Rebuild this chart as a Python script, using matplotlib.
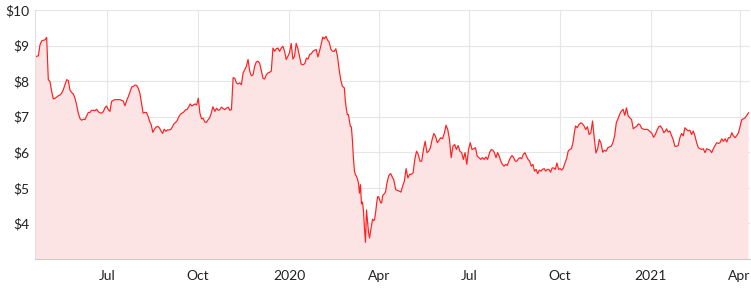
import matplotlib
matplotlib.use("Agg")
import matplotlib.pyplot as plt
import pandas as pd

# closing prices, one array per stretch of time
# (each stretch is sampled evenly between its start and end date)
prices_2019_q2 = [8.67, 8.70, 8.71, 9.02, 9.13, 9.15, 9.16, 9.23, 8.04, 7.99, 7.71, 7.50, 7.52, 7.55,
                  7.59, 7.61, 7.66, 7.76, 7.90, 8.04, 8.02, 7.75, 7.68, 7.64, 7.52, 7.33, 7.10, 6.95,
                  6.90, 6.93, 6.92, 7.02, 7.12, 7.12, 7.18, 7.18, 7.17, 7.21, 7.14, 7.11, 7.10, 7.14,
                  7.25, 7.30, 7.20, 7.15, 7.43, 7.46, 7.48, 7.48, 7.48, 7.48, 7.46, 7.44, 7.31]
prices_2019_q3 = [7.47, 7.58, 7.71, 7.84, 7.85, 7.89, 7.88, 7.80, 7.66, 7.38, 7.10, 7.12, 7.12, 7.02,
                  6.87, 6.77, 6.56, 6.65, 6.71, 6.73, 6.69, 6.60, 6.53, 6.65, 6.59, 6.63, 6.63, 6.64,
                  6.71, 6.80, 6.84, 6.89, 7.00, 7.07, 7.10, 7.13, 7.19, 7.20, 7.27, 7.36, 7.30, 7.33,
                  7.36, 7.33, 7.52, 7.10, 6.94, 6.96, 6.85, 6.84, 6.91, 6.97, 7.10, 7.28]
prices_2019_q4 = [7.15, 7.24, 7.18, 7.20, 7.27, 7.23, 7.20, 7.24, 7.27, 7.18, 7.20, 8.10, 8.08, 7.95,
                  7.92, 7.95, 7.90, 8.23, 8.32, 8.42, 8.61, 8.28, 8.15, 8.18, 8.42, 8.54, 8.56, 8.50,
                  8.30, 8.08, 8.06, 8.18, 8.23, 8.25, 8.28, 8.93, 8.84, 8.91, 8.93, 8.84, 8.93, 8.98,
                  8.84, 8.61, 8.70, 8.80, 9.06, 8.62, 8.70, 9.06, 8.92, 8.70, 8.48, 8.46]
prices_2020_jan = [8.49, 8.65, 8.62, 8.75, 8.77, 8.84, 8.87, 8.89, 8.68, 8.84, 9.03, 9.24, 9.19, 9.26,
                   9.15, 9.09, 8.89, 8.84, 8.84, 8.91, 8.70, 8.34, 8.04, 7.86]
prices_2020_crash = [7.81, 7.45, 7.22, 7.06, 7.06, 6.90, 6.73, 6.71, 6.35, 5.85, 5.48, 5.37, 5.33, 5.25,
                     5.14, 4.85, 5.09, 4.55, 4.60, 4.35, 3.85, 3.47, 4.38, 4.05, 3.75, 3.59, 3.78, 3.95,
                     4.12, 4.08, 4.10, 4.30, 4.55, 4.75, 4.75, 4.67, 4.58, 4.58, 4.78, 4.82, 4.84, 4.90,
                     5.10, 5.22, 5.34, 5.38, 5.40, 5.34, 5.28, 5.23]
prices_2020_q2 = [4.95, 4.93, 4.91, 4.88, 5.05, 5.19, 5.54, 5.28, 5.38, 5.38, 5.42, 5.80, 6.03, 5.94,
                  5.75, 5.75, 6.08, 6.31, 5.99, 6.03, 6.13, 6.36, 6.53, 6.44, 6.27, 6.34, 6.41, 6.38,
                  6.53, 6.76, 6.64, 6.36, 5.85, 6.17, 6.22, 6.08, 6.19, 6.03, 5.99, 5.80, 5.99, 5.66,
                  6.08, 6.27, 6.08, 6.10, 6.13, 5.89, 5.85, 5.80, 5.85, 5.80, 5.87, 5.80]
prices_2020_q3 = [5.99, 6.08, 6.06, 5.99, 5.85, 5.99, 5.89, 5.75, 5.66, 5.61, 5.66, 5.63, 5.75, 5.85,
                  5.91, 5.85, 5.75, 5.75, 5.82, 5.85, 5.82, 5.94, 5.99, 5.89, 5.80, 5.75, 5.61, 5.66,
                  5.47, 5.52, 5.40, 5.50, 5.47, 5.52, 5.54, 5.47, 5.52, 5.52, 5.44, 5.56, 5.56, 5.52,
                  5.70, 5.52, 5.54, 5.50, 5.56, 5.70, 5.82, 6.03, 6.08, 6.10, 6.27, 6.60]
prices_2020_q4 = [6.74, 6.69, 6.78, 6.83, 6.80, 6.74, 6.64, 6.72, 6.50, 6.55, 6.88, 6.41, 5.98, 6.10,
                  6.36, 6.25, 6.00, 6.06, 6.03, 6.13, 6.15, 6.17, 6.27, 6.46, 6.83, 6.94, 7.07, 7.16,
                  7.21, 7.04, 7.25, 7.02, 6.97, 6.92, 6.66, 6.70, 6.73, 6.80, 6.77, 6.67, 6.65, 6.64,
                  6.65, 6.62, 6.58, 6.53, 6.42, 6.50, 6.62, 6.72, 6.74, 6.67, 6.55, 6.60]
prices_2021_q1 = [6.66, 6.57, 6.60, 6.47, 6.36, 6.17, 6.17, 6.19, 6.41, 6.53, 6.46, 6.69, 6.64, 6.60,
                  6.62, 6.50, 6.60, 6.46, 6.27, 6.13, 6.10, 6.08, 6.10, 5.99, 6.10, 6.08, 6.06, 5.99,
                  6.10, 6.19, 6.27, 6.25, 6.27, 6.38, 6.31, 6.38, 6.29, 6.41, 6.41, 6.55, 6.46, 6.41,
                  6.47, 6.55, 6.74, 6.92, 6.94, 6.97, 7.04, 7.11]

segments = [
    ("2019-04-19", "2019-07-19", prices_2019_q2),
    ("2019-07-21", "2019-10-16", prices_2019_q3),
    ("2019-10-18", "2020-01-15", prices_2019_q4),
    ("2020-01-17", "2020-02-24", prices_2020_jan),
    ("2020-02-26", "2020-04-16", prices_2020_crash),
    ("2020-04-18", "2020-07-20", prices_2020_q2),
    ("2020-07-22", "2020-10-16", prices_2020_q3),
    ("2020-10-17", "2021-01-16", prices_2020_q4),
    ("2021-01-17", "2021-04-10", prices_2021_q1),
]

tick_dates = ["2019-07-01", "2019-10-01", "2020-01-01", "2020-04-01",
              "2020-07-01", "2020-10-01", "2021-01-01", "2021-04-01"]
tick_labels = ["Jul", "Oct", "2020", "Apr", "Jul", "Oct", "2021", "Apr"]
y_ticks = [4, 5, 6, 7, 8, 9, 10]

parts = []
for start, end, vals in segments:
    parts.append(pd.Series(vals, index=pd.date_range(start, end, periods=len(vals))))
series = pd.concat(parts)

plt.rcParams['font.family'] = ['Lato', 'DejaVu Sans']

fig = plt.figure(figsize=(7.51, 2.89), dpi=100)
ax = fig.add_axes([35 / 751, 30 / 289, 715 / 751, 249 / 289])

ax.fill_between(series.index, series.values, 0, color="#fde4e4", lw=0)
ax.plot(series.index, series.values, color="#ff1f1f", lw=0.85)

ax.set_ylim(3, 10)
ax.set_xlim(series.index[0], pd.Timestamp("2021-04-11 12:00"))

ax.set_yticks(y_ticks)
ax.set_yticklabels([f"${v}" for v in y_ticks])
ax.set_xticks(pd.to_datetime(tick_dates))
ax.set_xticklabels(tick_labels)

ax.grid(True, color="#e6e6e6", lw=0.8)
ax.set_axisbelow(True)
ax.tick_params(length=0, labelsize=10, colors="#222222")
ax.tick_params(axis="x", pad=8)
ax.tick_params(axis="y", pad=4)

for side in ["top", "right"]:
    ax.spines[side].set_visible(False)
ax.spines["left"].set_color("#e0e0e0")
ax.spines["bottom"].set_color("#cccccc")
ax.spines["left"].set_linewidth(0.8)
ax.spines["bottom"].set_linewidth(0.8)

fig.savefig("out.png", dpi=100, facecolor="white")
